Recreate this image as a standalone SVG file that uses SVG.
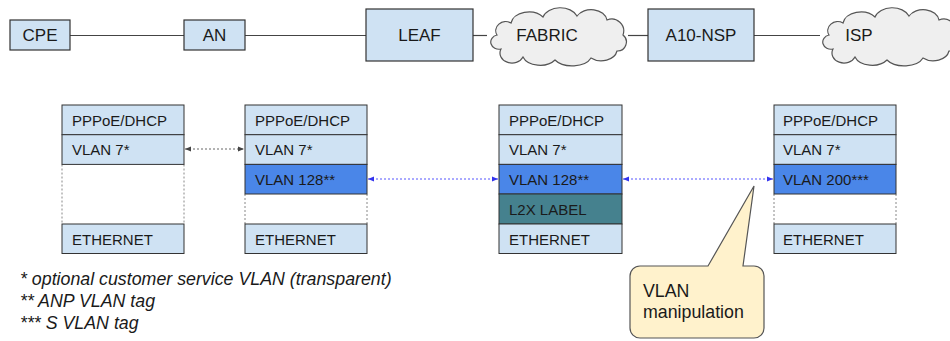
<svg xmlns="http://www.w3.org/2000/svg" width="950" height="341" viewBox="0 0 950 341">
<style>
text{font-family:"Liberation Sans",Arial,sans-serif;fill:#1a1a1a}
.top{font-size:17px;text-anchor:middle;dominant-baseline:central}
.box{fill:#cfe2f3;stroke:#333;stroke-width:1.2}
.row{fill:#cfe2f3;stroke:#333;stroke-width:1}
.blue{fill:#4a86e8;stroke:#333;stroke-width:1}
.teal{fill:#45818e;stroke:#333;stroke-width:1}
.lbl{font-size:15px;dominant-baseline:central}
.dash{stroke:#888;stroke-width:1;stroke-dasharray:2 2;fill:none}
.cloud{fill:#efefef;stroke:#555;stroke-width:1.2}
.wire{stroke:#444;stroke-width:1.2;fill:none}
.note{font-size:17.8px;font-style:italic}
.call{font-size:17.8px}
</style>
<defs>
<path id="cloudshape" d="M 12,24 A 10 9 0 0 1 26,12 A 18 13 0 0 1 58,6 A 18 13 0 0 1 92,5 A 16 12 0 0 1 122,9 A 12 12 0 0 1 138,24 A 9 9 0 0 1 132,40 A 16 12 0 0 1 106,47 A 20 12 0 0 1 70,49 A 18 12 0 0 1 38,46 A 12 10 0 0 1 16,38 A 8 7 0 0 1 12,24 Z"/>
<marker id="ag" viewBox="0 0 6 6" refX="6" refY="3" markerWidth="6" markerHeight="6" orient="auto-start-reverse" markerUnits="userSpaceOnUse"><path d="M0,0.5 L6,3 L0,5.5 Z" fill="#444"/></marker>
<marker id="ab" viewBox="0 0 6 6" refX="6" refY="3" markerWidth="6" markerHeight="6" orient="auto-start-reverse" markerUnits="userSpaceOnUse"><path d="M0,0.5 L6,3 L0,5.5 Z" fill="#3333ee"/></marker>
</defs>

<g id="connectors">
<line class="wire" x1="70" y1="35.5" x2="184" y2="35.5"/>
<line class="wire" x1="245" y1="35.5" x2="366" y2="35.5"/>
<line class="wire" x1="473" y1="35.5" x2="487" y2="35.5"/>
<line class="wire" x1="628" y1="35.5" x2="648" y2="35.5"/>
<line class="wire" x1="754" y1="35.5" x2="820" y2="35.5"/>
<line x1="185" y1="149" x2="244" y2="149" stroke="#666" stroke-width="1" stroke-dasharray="2 2" marker-start="url(#ag)" marker-end="url(#ag)"/>
<line x1="368" y1="179" x2="498" y2="179" stroke="#5555ff" stroke-width="1" stroke-dasharray="2 2" marker-start="url(#ab)" marker-end="url(#ab)"/>
<line x1="623" y1="179" x2="773" y2="179" stroke="#5555ff" stroke-width="1" stroke-dasharray="2 2" marker-start="url(#ab)" marker-end="url(#ab)"/>
</g>

<g id="cpe"><rect class="box" x="10" y="20" width="60" height="30"/><text class="top" x="40" y="35.5">CPE</text></g>
<g id="an"><rect class="box" x="184" y="20" width="61" height="30"/><text class="top" x="214.5" y="35.5">AN</text></g>
<g id="leaf"><rect class="box" x="366" y="9" width="107" height="52"/><text class="top" x="419.5" y="35.5">LEAF</text></g>
<g id="fabric"><use href="#cloudshape" class="cloud" transform="translate(485,11)"/><text class="top" x="547" y="35">FABRIC</text></g>
<g id="a10nsp"><rect class="box" x="648" y="9" width="106" height="52"/><text class="top" x="701" y="35.5">A10-NSP</text></g>
<g id="isp"><use href="#cloudshape" class="cloud" transform="translate(817,11)"/><text class="top" x="859" y="35">ISP</text></g>

<g id="stack1">
<line class="dash" x1="62" y1="164.5" x2="62" y2="224"/><line class="dash" x1="184" y1="164.5" x2="184" y2="224"/>
<rect class="row" x="62" y="105" width="122" height="29.7"/><text class="lbl" x="72" y="120">PPPoE/DHCP</text>
<rect class="row" x="62" y="134.7" width="122" height="29.7"/><text class="lbl" x="72" y="149.5">VLAN 7*</text>
<rect class="row" x="62" y="224" width="122" height="29.5"/><text class="lbl" x="72" y="239">ETHERNET</text>
</g>
<g id="stack2">
<line class="dash" x1="245" y1="194" x2="245" y2="224"/><line class="dash" x1="367" y1="194" x2="367" y2="224"/>
<rect class="row" x="245" y="105" width="122" height="29.7"/><text class="lbl" x="255" y="120">PPPoE/DHCP</text>
<rect class="row" x="245" y="134.7" width="122" height="29.7"/><text class="lbl" x="255" y="149.5">VLAN 7*</text>
<rect class="blue" x="245" y="164.4" width="122" height="29.6"/><text class="lbl" x="255" y="179">VLAN 128**</text>
<rect class="row" x="245" y="224" width="122" height="29.5"/><text class="lbl" x="255" y="239">ETHERNET</text>
</g>
<g id="stack3">
<rect class="row" x="499" y="105" width="123" height="29.7"/><text class="lbl" x="509" y="120">PPPoE/DHCP</text>
<rect class="row" x="499" y="134.7" width="123" height="29.7"/><text class="lbl" x="509" y="149.5">VLAN 7*</text>
<rect class="blue" x="499" y="164.4" width="123" height="29.6"/><text class="lbl" x="509" y="179">VLAN 128**</text>
<rect class="teal" x="499" y="194" width="123" height="30"/><text class="lbl" x="509" y="209">L2X LABEL</text>
<rect class="row" x="499" y="224" width="123" height="29.5"/><text class="lbl" x="509" y="239">ETHERNET</text>
</g>
<g id="stack4">
<line class="dash" x1="774" y1="194" x2="774" y2="224"/><line class="dash" x1="896" y1="194" x2="896" y2="224"/>
<rect class="row" x="774" y="105" width="122" height="29.7"/><text class="lbl" x="783" y="120">PPPoE/DHCP</text>
<rect class="row" x="774" y="134.7" width="122" height="29.7"/><text class="lbl" x="783" y="149.5">VLAN 7*</text>
<rect class="blue" x="774" y="164.4" width="122" height="29.6"/><text class="lbl" x="783" y="179">VLAN 200***</text>
<rect class="row" x="774" y="224" width="122" height="29.5"/><text class="lbl" x="783" y="239">ETHERNET</text>
</g>

<g id="callout">
<path d="M 640,266 L 708,266 L 754,186 L 743,266 L 754,266 A 10 10 0 0 1 764,276 L 764,328 A 10 10 0 0 1 754,338 L 640,338 A 10 10 0 0 1 630,328 L 630,276 A 10 10 0 0 1 640,266 Z" fill="#fff2cc" stroke="#555" stroke-width="1.2"/>
<text class="call" x="643" y="297">VLAN</text>
<text class="call" x="643" y="318">manipulation</text>
</g>

<g id="notes">
<text class="note" x="20" y="284.5">* optional customer service VLAN (transparent)</text>
<text class="note" x="20" y="306.5">** ANP VLAN tag</text>
<text class="note" x="20" y="329">*** S VLAN tag</text>
</g>
</svg>
